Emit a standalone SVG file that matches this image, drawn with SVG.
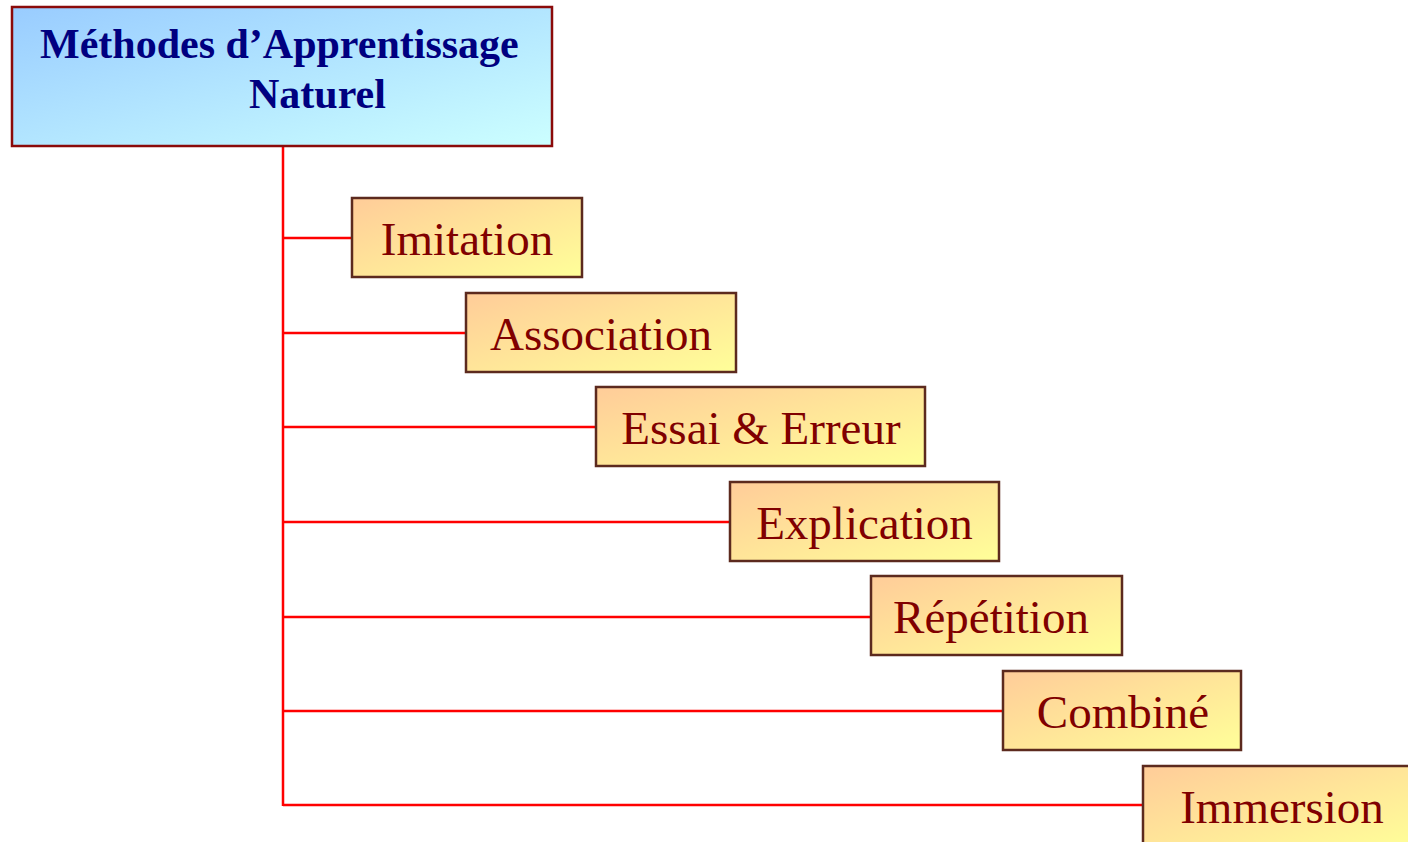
<svg xmlns="http://www.w3.org/2000/svg" width="1408" height="842" viewBox="0 0 1408 842">
  <defs>
    <linearGradient id="gTitle" x1="0" y1="0" x2="1" y2="1">
      <stop offset="0" stop-color="#99CCFF"/>
      <stop offset="1" stop-color="#CCFFFF"/>
    </linearGradient>
    <linearGradient id="gItem" x1="0" y1="0" x2="1" y2="1">
      <stop offset="0" stop-color="#FFCC99"/>
      <stop offset="1" stop-color="#FFFF99"/>
    </linearGradient>
    <style>
      .title-box { fill: url(#gTitle); stroke: #8B0A0A; stroke-width: 2.5; }
      .title-text { font-family: "Liberation Serif", "Times New Roman", serif; font-weight: bold; font-size: 42px; fill: #000080; }
      .item-box { fill: url(#gItem); stroke: #5C2A1E; stroke-width: 2.5; }
      .item-text { font-family: "Liberation Serif", "Times New Roman", serif; font-size: 47px; fill: #800000; text-anchor: middle; }
      .link { stroke: #FF0000; stroke-width: 2.5; fill: none; }
    </style>
  </defs>
  <rect width="1408" height="842" fill="#FFFFFF"/>

  <g id="connectors">
    <line class="link" x1="283" y1="146" x2="283" y2="806"/>
    <line class="link" x1="283" y1="238" x2="352" y2="238"/>
    <line class="link" x1="283" y1="333" x2="466" y2="333"/>
    <line class="link" x1="283" y1="427" x2="596" y2="427"/>
    <line class="link" x1="283" y1="522" x2="730" y2="522"/>
    <line class="link" x1="283" y1="617" x2="871" y2="617"/>
    <line class="link" x1="283" y1="711" x2="1003" y2="711"/>
    <line class="link" x1="283" y1="805" x2="1143" y2="805"/>
  </g>

  <g id="root">
    <rect class="title-box" x="12" y="7" width="540" height="139"/>
    <text class="title-text" x="40" y="58">Méthodes d’Apprentissage</text>
    <text class="title-text" x="249" y="108">Naturel</text>
  </g>

  <g id="imitation">
    <rect class="item-box" x="352" y="198" width="230" height="79"/>
    <text class="item-text" x="467" y="255">Imitation</text>
  </g>
  <g id="association">
    <rect class="item-box" x="466" y="293" width="270" height="79"/>
    <text class="item-text" x="601" y="350">Association</text>
  </g>
  <g id="essai-erreur">
    <rect class="item-box" x="596" y="387" width="329" height="79"/>
    <text class="item-text" x="761" y="444">Essai &amp; Erreur</text>
  </g>
  <g id="explication">
    <rect class="item-box" x="730" y="482" width="269" height="79"/>
    <text class="item-text" x="864.5" y="539">Explication</text>
  </g>
  <g id="repetition">
    <rect class="item-box" x="871" y="576" width="251" height="79"/>
    <text class="item-text" x="991" y="633">Répétition</text>
  </g>
  <g id="combine">
    <rect class="item-box" x="1003" y="671" width="238" height="79"/>
    <text class="item-text" x="1123" y="728">Combiné</text>
  </g>
  <g id="immersion">
    <rect class="item-box" x="1143" y="766" width="280" height="80"/>
    <text class="item-text" x="1282" y="823">Immersion</text>
  </g>
</svg>
